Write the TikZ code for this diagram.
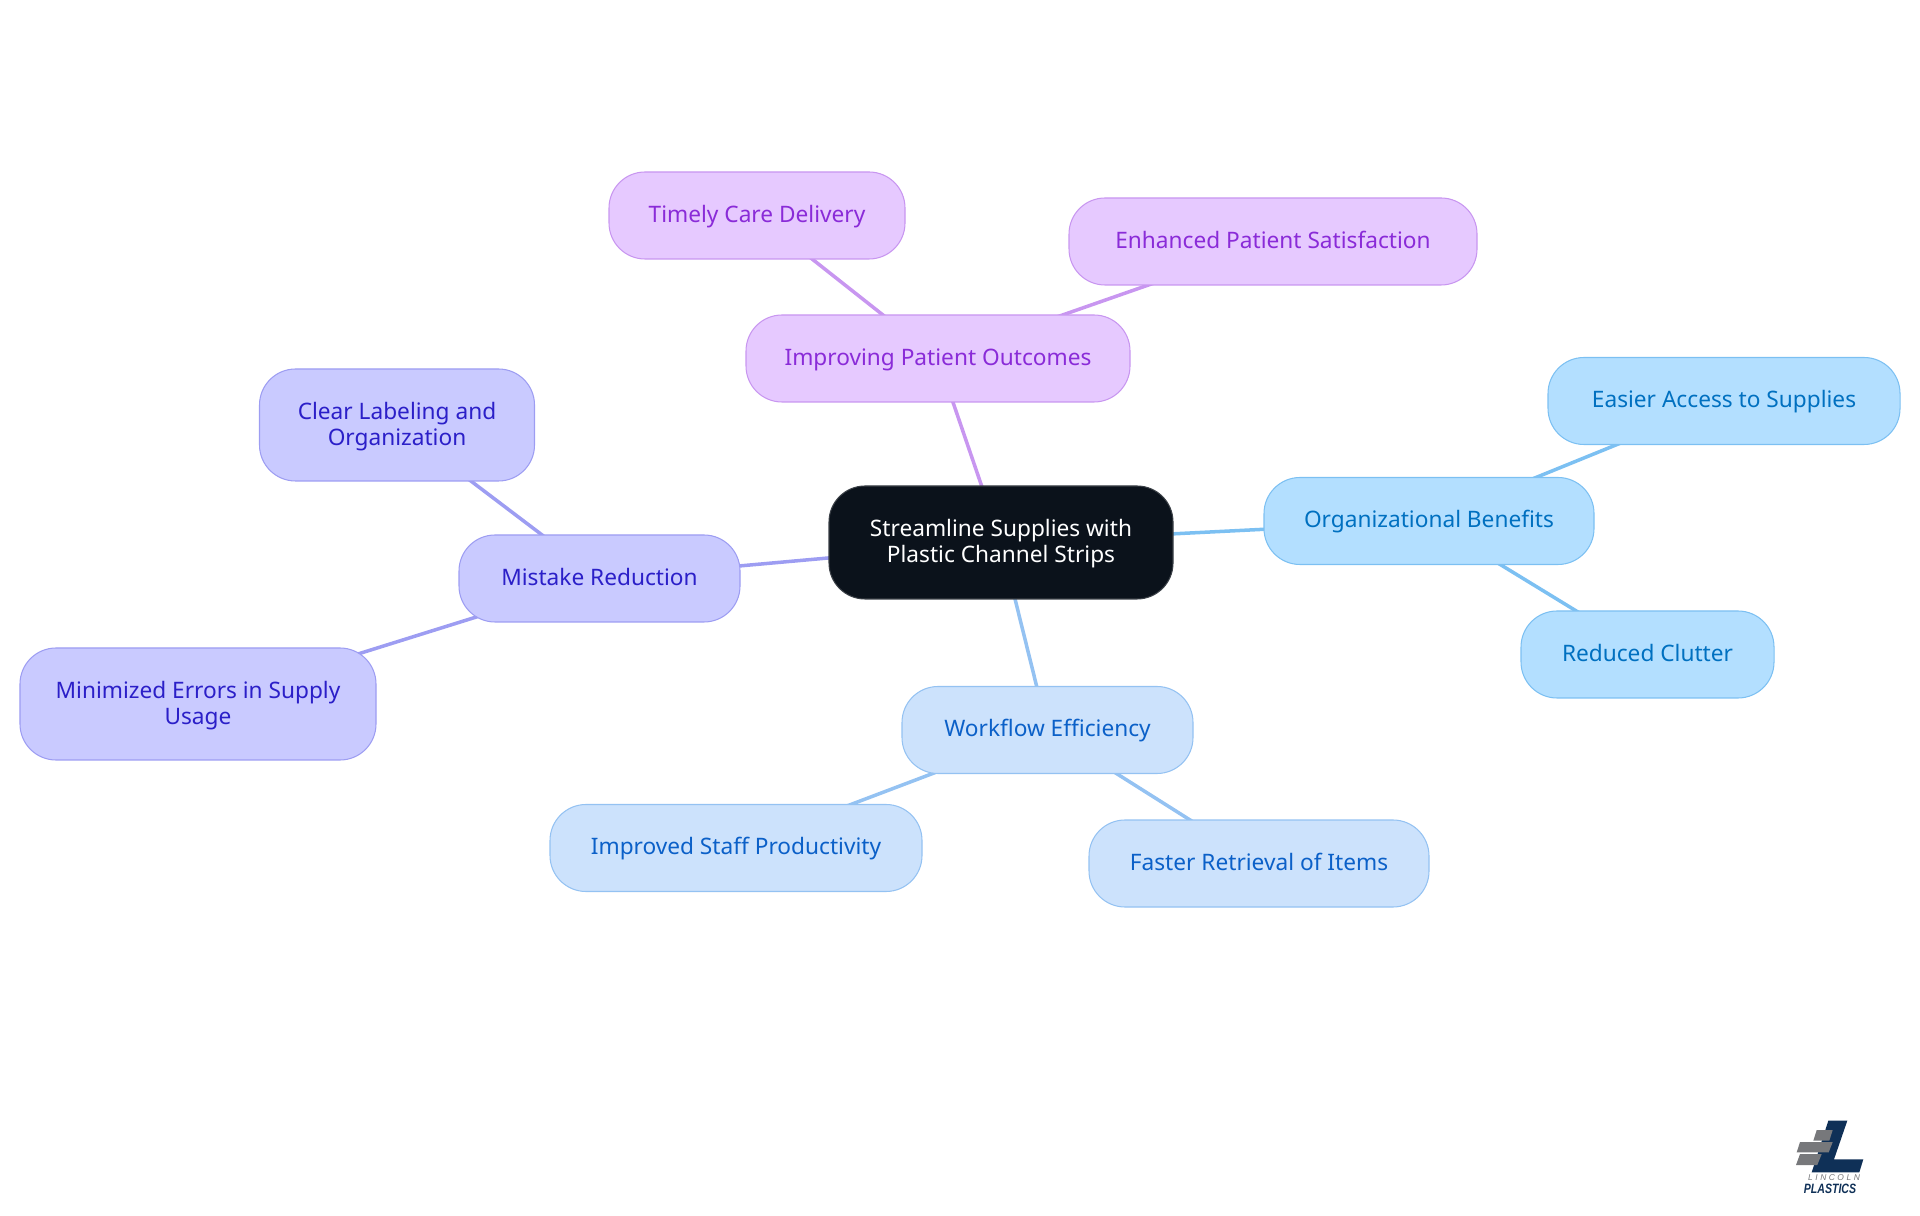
\documentclass[tikz,border=0pt]{standalone}
\usepackage{fontspec}
\setmainfont{Noto Sans}
\newfontfamily\logofont{Liberation Sans}
\newfontfamily\logospaced[LetterSpace=30]{Liberation Sans}
\usetikzlibrary{backgrounds}
\definecolor{rootfill}{HTML}{0B121B}
\definecolor{rootline}{HTML}{3A3F46}
\definecolor{blueline}{HTML}{7CC0F2}
\definecolor{bluefill}{HTML}{B3DFFF}
\definecolor{bluetext}{HTML}{0070C0}
\definecolor{skyline}{HTML}{94C2F2}
\definecolor{skyfill}{HTML}{CCE2FC}
\definecolor{skytext}{HTML}{0B60C8}
\definecolor{violetline}{HTML}{9D9DF2}
\definecolor{violetfill}{HTML}{C9CAFF}
\definecolor{violettext}{HTML}{2B1FC8}
\definecolor{purpleline}{HTML}{C896F0}
\definecolor{purplefill}{HTML}{E6C9FF}
\definecolor{purpletext}{HTML}{8A2BD8}
\definecolor{logonavy}{HTML}{0F3057}
\definecolor{logogrey}{HTML}{77787B}
\newcommand{\toppad}{\rule{0pt}{6.3pt}}
\tikzstyle{topic}=[draw, rounded corners=0.36cm, line width=0.3pt, inner sep=0, align=center, font=\fontsize{6.45}{7.35}\selectfont, execute at begin node={\rule{0pt}{6.15pt}\strut}]
\tikzstyle{root}=[topic, draw=rootline, fill=rootfill, text=white, minimum width=3.44cm, minimum height=1.13cm]
\tikzstyle{blue topic}=[topic, draw=blueline, fill=bluefill, text=bluetext, minimum height=0.87cm]
\tikzstyle{sky topic}=[topic, draw=skyline, fill=skyfill, text=skytext, minimum height=0.87cm]
\tikzstyle{violet topic}=[topic, draw=violetline, fill=violetfill, text=violettext, minimum height=0.87cm]
\tikzstyle{purple topic}=[topic, draw=purpleline, fill=purplefill, text=purpletext, minimum height=0.87cm]
\tikzstyle{link}=[line width=1pt]

\begin{document}
\begin{tikzpicture}
  \useasboundingbox (0, 0) rectangle (19.2, 12.15);

  \node[root] (supplies) at (10.01, 6.725) {\toppad Streamline Supplies with\\Plastic Channel Strips};

  \node[purple topic, minimum width=3.84cm] (outcomes) at (9.38, 8.565) {Improving Patient Outcomes};
  \node[purple topic, minimum width=2.96cm] (timely) at (7.57, 9.995) {Timely Care Delivery};
  \node[purple topic, minimum width=4.08cm] (satisfaction) at (12.73, 9.735) {Enhanced Patient Satisfaction};

  \node[violet topic, minimum width=2.81cm] (mistake) at (5.995, 6.365) {Mistake Reduction};
  \node[violet topic, minimum width=2.75cm, minimum height=1.12cm] (labeling) at (3.97, 7.9) {\toppad Clear Labeling and\\Organization};
  \node[violet topic, minimum width=3.56cm, minimum height=1.12cm] (errors) at (1.98, 5.11) {\toppad Minimized Errors in Supply\\Usage};

  \node[blue topic, minimum width=3.3cm] (benefits) at (14.29, 6.94) {Organizational Benefits};
  \node[blue topic, minimum width=3.52cm] (access) at (17.24, 8.14) {Easier Access to Supplies};
  \node[blue topic, minimum width=2.53cm] (clutter) at (16.475, 5.605) {Reduced Clutter};

  \node[sky topic, minimum width=2.91cm] (workflow) at (10.475, 4.85) {Workflow Efficiency};
  \node[sky topic, minimum width=3.72cm] (productivity) at (7.36, 3.67) {Improved Staff Productivity};
  \node[sky topic, minimum width=3.4cm] (retrieval) at (12.59, 3.515) {Faster Retrieval of Items};

  \begin{scope}[on background layer]
    \draw[link, draw=purpleline] (supplies.center) -- (outcomes.center);
    \draw[link, draw=purpleline] (outcomes.center) -- (timely.center);
    \draw[link, draw=purpleline] (outcomes.center) -- (satisfaction.center);
    \draw[link, draw=violetline] (supplies.center) -- (mistake.center);
    \draw[link, draw=violetline] (mistake.center) -- (labeling.center);
    \draw[link, draw=violetline] (mistake.center) -- (errors.center);
    \draw[link, draw=blueline] (supplies.center) -- (benefits.center);
    \draw[link, draw=blueline] (benefits.center) -- (access.center);
    \draw[link, draw=blueline] (benefits.center) -- (clutter.center);
    \draw[link, draw=skyline] (supplies.center) -- (workflow.center);
    \draw[link, draw=skyline] (workflow.center) -- (productivity.center);
    \draw[link, draw=skyline] (workflow.center) -- (retrieval.center);
  \end{scope}

  % logo
  \fill[logonavy] (18.283, 0.943) -- (18.473, 0.943) -- (18.34, 0.557) -- (18.633, 0.557) -- (18.593, 0.427) -- (18.117, 0.427) -- cycle;
  \fill[logogrey] (18.167, 0.85) -- (18.327, 0.85) -- (18.293, 0.743) -- (18.133, 0.743) -- cycle;
  \fill[logogrey] (18.0, 0.73) -- (18.327, 0.73) -- (18.287, 0.627) -- (17.967, 0.627) -- cycle;
  \fill[logogrey] (18.0, 0.61) -- (18.217, 0.61) -- (18.173, 0.5) -- (17.96, 0.5) -- cycle;
  \node[inner sep=0, text=logogrey, font=\logospaced\itshape\fontsize{2.4}{3}\selectfont] (lincoln) at (18.34, 0.37) {LINCOLN};
  \node[inner sep=0, text=logonavy, font=\logofont\bfseries\itshape\fontsize{3.85}{4}\selectfont] (plastics) at (18.3, 0.263) {\scalebox{0.78}[1]{PLASTICS}};
\end{tikzpicture}
\end{document}
